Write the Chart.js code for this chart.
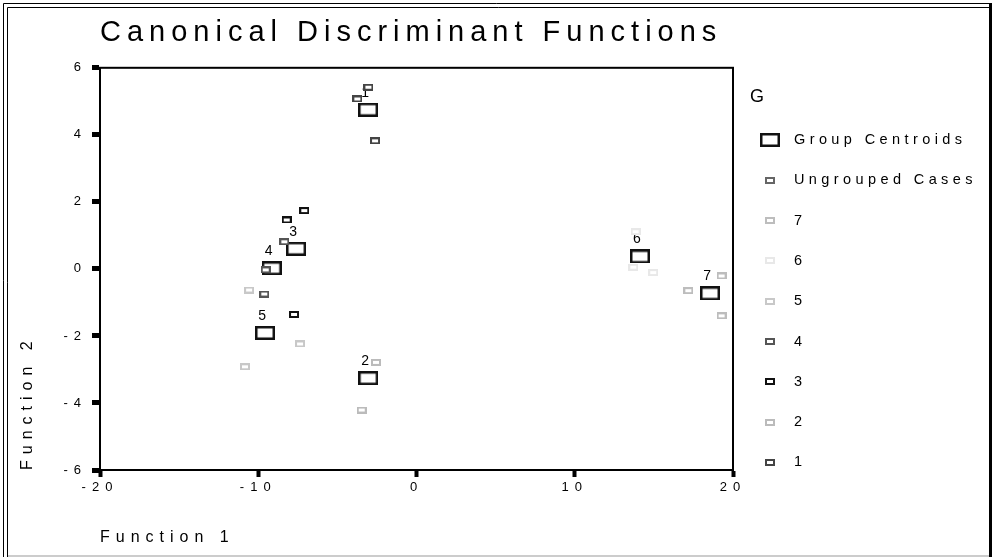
<!DOCTYPE html>
<html>
<head>
<meta charset="utf-8">
<script src="https://cdn.jsdelivr.net/npm/chart.js@4.4.0/dist/chart.umd.min.js"></script>
<style>
html, body { margin: 0; padding: 0; background: #fff; }
canvas { display: block; }
</style>
</head>
<body>
<canvas id="chart" width="992" height="557"></canvas>
<script>
// group centroids (Function 1, Function 2)
const groupNames = ['1', '2', '3', '4', '5', '6', '7'];
const centroidX = [-3.06, -3.05, -7.61, -9.15, -9.57, 14.12, 18.55];
const centroidY = [4.75, -3.26, 0.60, 0.02, -1.91, 0.37, -0.73];

// individual cases
const caseGroup = [1, 1, 1, 2, 2, 3, 3, 3, 4, 4, 4, 5, 5, 5, 6, 6, 6, 7, 7, 7];
const caseX = [-3.04, -3.74, -2.62, -2.56, -3.46, -7.09, -8.20, -7.74, -8.35, -9.53, -9.62, -10.58, -7.36, -10.84, 13.85, 13.70, 14.96, 19.28, 17.18, 19.28];
const caseY = [5.42, 5.07, 3.82, -2.79, -4.21, 1.74, 1.46, -1.36, 0.81, -0.03, -0.75, -0.63, -2.24, -2.92, 1.11, 0.05, -0.11, -0.21, -0.65, -1.40];

const xTicks = [-20, -10, 0, 10, 20];
const yTicks = [-6, -4, -2, 0, 2, 4, 6];

const legendOrder = [7, 6, 5, 4, 3, 2, 1];
const groupColors = { 1: '#444', 2: '#bbb', 3: '#111', 4: '#555', 5: '#c8c8c8', 6: '#e8e8e8', 7: '#bdbdbd' };

function boxImg(w, h, lw, color, fill) {
  const c = document.createElement('canvas');
  c.width = w; c.height = h;
  const g = c.getContext('2d');
  if (fill) {
    g.fillStyle = '#fff';
    g.fillRect(lw / 2, lw / 2, w - lw, h - lw);
  }
  g.strokeStyle = color;
  g.lineWidth = lw;
  g.strokeRect(lw / 2, lw / 2, w - lw, h - lw);
  return c;
}

const datasets = [{
  label: 'Group Centroids',
  data: centroidX.map((x, i) => ({ x, y: centroidY[i] })),
  pointStyle: boxImg(20, 14, 2.5, '#111', false),
  pointRadius: 6,
  order: 1
}, {
  label: 'Ungrouped Cases',
  data: [],
  pointStyle: boxImg(10, 7, 2, '#666', true),
  pointRadius: 4,
  order: 0
}];

legendOrder.forEach(g => {
  datasets.push({
    label: String(g),
    data: caseX.map((x, i) => ({ x, y: caseY[i], g: caseGroup[i] })).filter(p => p.g === g),
    pointStyle: boxImg(10, 7, 2, groupColors[g], true),
    pointRadius: 4,
    order: 0
  });
});

const decor = {
  id: 'decor',
  beforeUpdate(chart) {
    chart.ctx.letterSpacing = '6px';
  },
  beforeDraw(chart) {
    const ctx = chart.ctx;
    ctx.save();
    ctx.fillStyle = '#fff';
    ctx.fillRect(0, 0, chart.width, chart.height);
    ctx.strokeStyle = '#000';
    ctx.lineWidth = 1;
    ctx.beginPath();
    ctx.moveTo(3.5, 557); ctx.lineTo(3.5, 3.5); ctx.lineTo(990, 3.5);
    ctx.moveTo(7.5, 557); ctx.lineTo(7.5, 7.5); ctx.lineTo(990, 7.5);
    ctx.stroke();
    ctx.fillStyle = '#000';
    ctx.fillRect(989, 3, 3, 554);
    ctx.fillStyle = '#ccc';
    ctx.fillRect(8, 555, 981, 2);
    ctx.restore();
    ctx.letterSpacing = '6px';
  },
  beforeDatasetsDraw(chart) {
    const ctx = chart.ctx;
    const meta = chart.getDatasetMeta(0);
    ctx.save();
    ctx.letterSpacing = '0px';
    ctx.font = "14px 'Liberation Sans', Arial, sans-serif";
    ctx.fillStyle = '#000';
    ctx.textAlign = 'center';
    ctx.textBaseline = 'middle';
    meta.data.forEach((pt, i) => {
      ctx.fillText(groupNames[i], pt.x - 3, pt.y - 17);
    });
    ctx.restore();
  },
  afterDraw(chart) {
    const ctx = chart.ctx;
    const a = chart.chartArea;
    ctx.save();
    ctx.strokeStyle = '#000';
    ctx.lineWidth = 2;
    ctx.strokeRect(a.left, a.top, a.right - a.left, a.bottom - a.top);

    // legend
    ctx.fillStyle = '#000';
    ctx.textBaseline = 'middle';
    ctx.textAlign = 'left';
    ctx.letterSpacing = '0px';
    ctx.font = "18px 'Liberation Sans', Arial, sans-serif";
    ctx.fillText('G', 750, 97);
    ctx.letterSpacing = '4.4px';
    ctx.font = "14.5px 'Liberation Sans', Arial, sans-serif";
    chart.data.datasets.forEach((ds, i) => {
      const y = 140 + i * 40.3;
      const img = ds.pointStyle;
      ctx.drawImage(img, Math.round(770 - img.width / 2), Math.round(y - img.height / 2));
      ctx.fillText(ds.label, 794, y);
    });
    ctx.restore();
  }
};

const fontFamily = "'Liberation Sans', Arial, sans-serif";
Chart.defaults.font.family = fontFamily;
Chart.defaults.color = '#000';

new Chart(document.getElementById('chart').getContext('2d'), {
  type: 'scatter',
  data: { datasets },
  options: {
    responsive: false,
    animation: false,
    events: [],
    layout: { padding: { left: 0, right: 259, top: 0, bottom: 0 } },
    plugins: {
      legend: { display: false },
      tooltip: { enabled: false },
      title: {
        display: true,
        text: 'Canonical Discriminant Functions',
        align: 'start',
        fullSize: false,
        color: '#000',
        font: { size: 29, weight: 'normal' },
        padding: { top: 16, bottom: 17 }
      }
    },
    scales: {
      x: {
        type: 'linear',
        min: -20,
        max: 20,
        afterFit(scale) { scale.height = 87; },
        afterBuildTicks(scale) { scale.ticks = xTicks.map(v => ({ value: v })); },
        ticks: { font: { size: 13 }, padding: 3, color: '#000' },
        grid: { drawOnChartArea: false, drawTicks: true, tickLength: 7, tickWidth: 4, tickColor: '#000' },
        border: { display: true, color: '#000', width: 2 },
        title: {
          display: true, text: 'Function 1', align: 'start', color: '#000',
          font: { size: 16 }, padding: { top: 0, bottom: 10 }
        }
      },
      y: {
        type: 'linear',
        min: -6,
        max: 6,
        afterFit(scale) { scale.width = 100; },
        afterBuildTicks(scale) { scale.ticks = yTicks.map(v => ({ value: v })); },
        ticks: { font: { size: 13 }, padding: 5, color: '#000' },
        grid: { drawOnChartArea: false, drawTicks: true, tickLength: 8, tickWidth: 5, tickColor: '#000' },
        border: { display: true, color: '#000', width: 2 },
        title: {
          display: true, text: 'Function 2', align: 'start', color: '#000',
          font: { size: 16 }, padding: { top: 18, bottom: 0 }
        }
      }
    }
  },
  plugins: [decor]
});
</script>
</body>
</html>
